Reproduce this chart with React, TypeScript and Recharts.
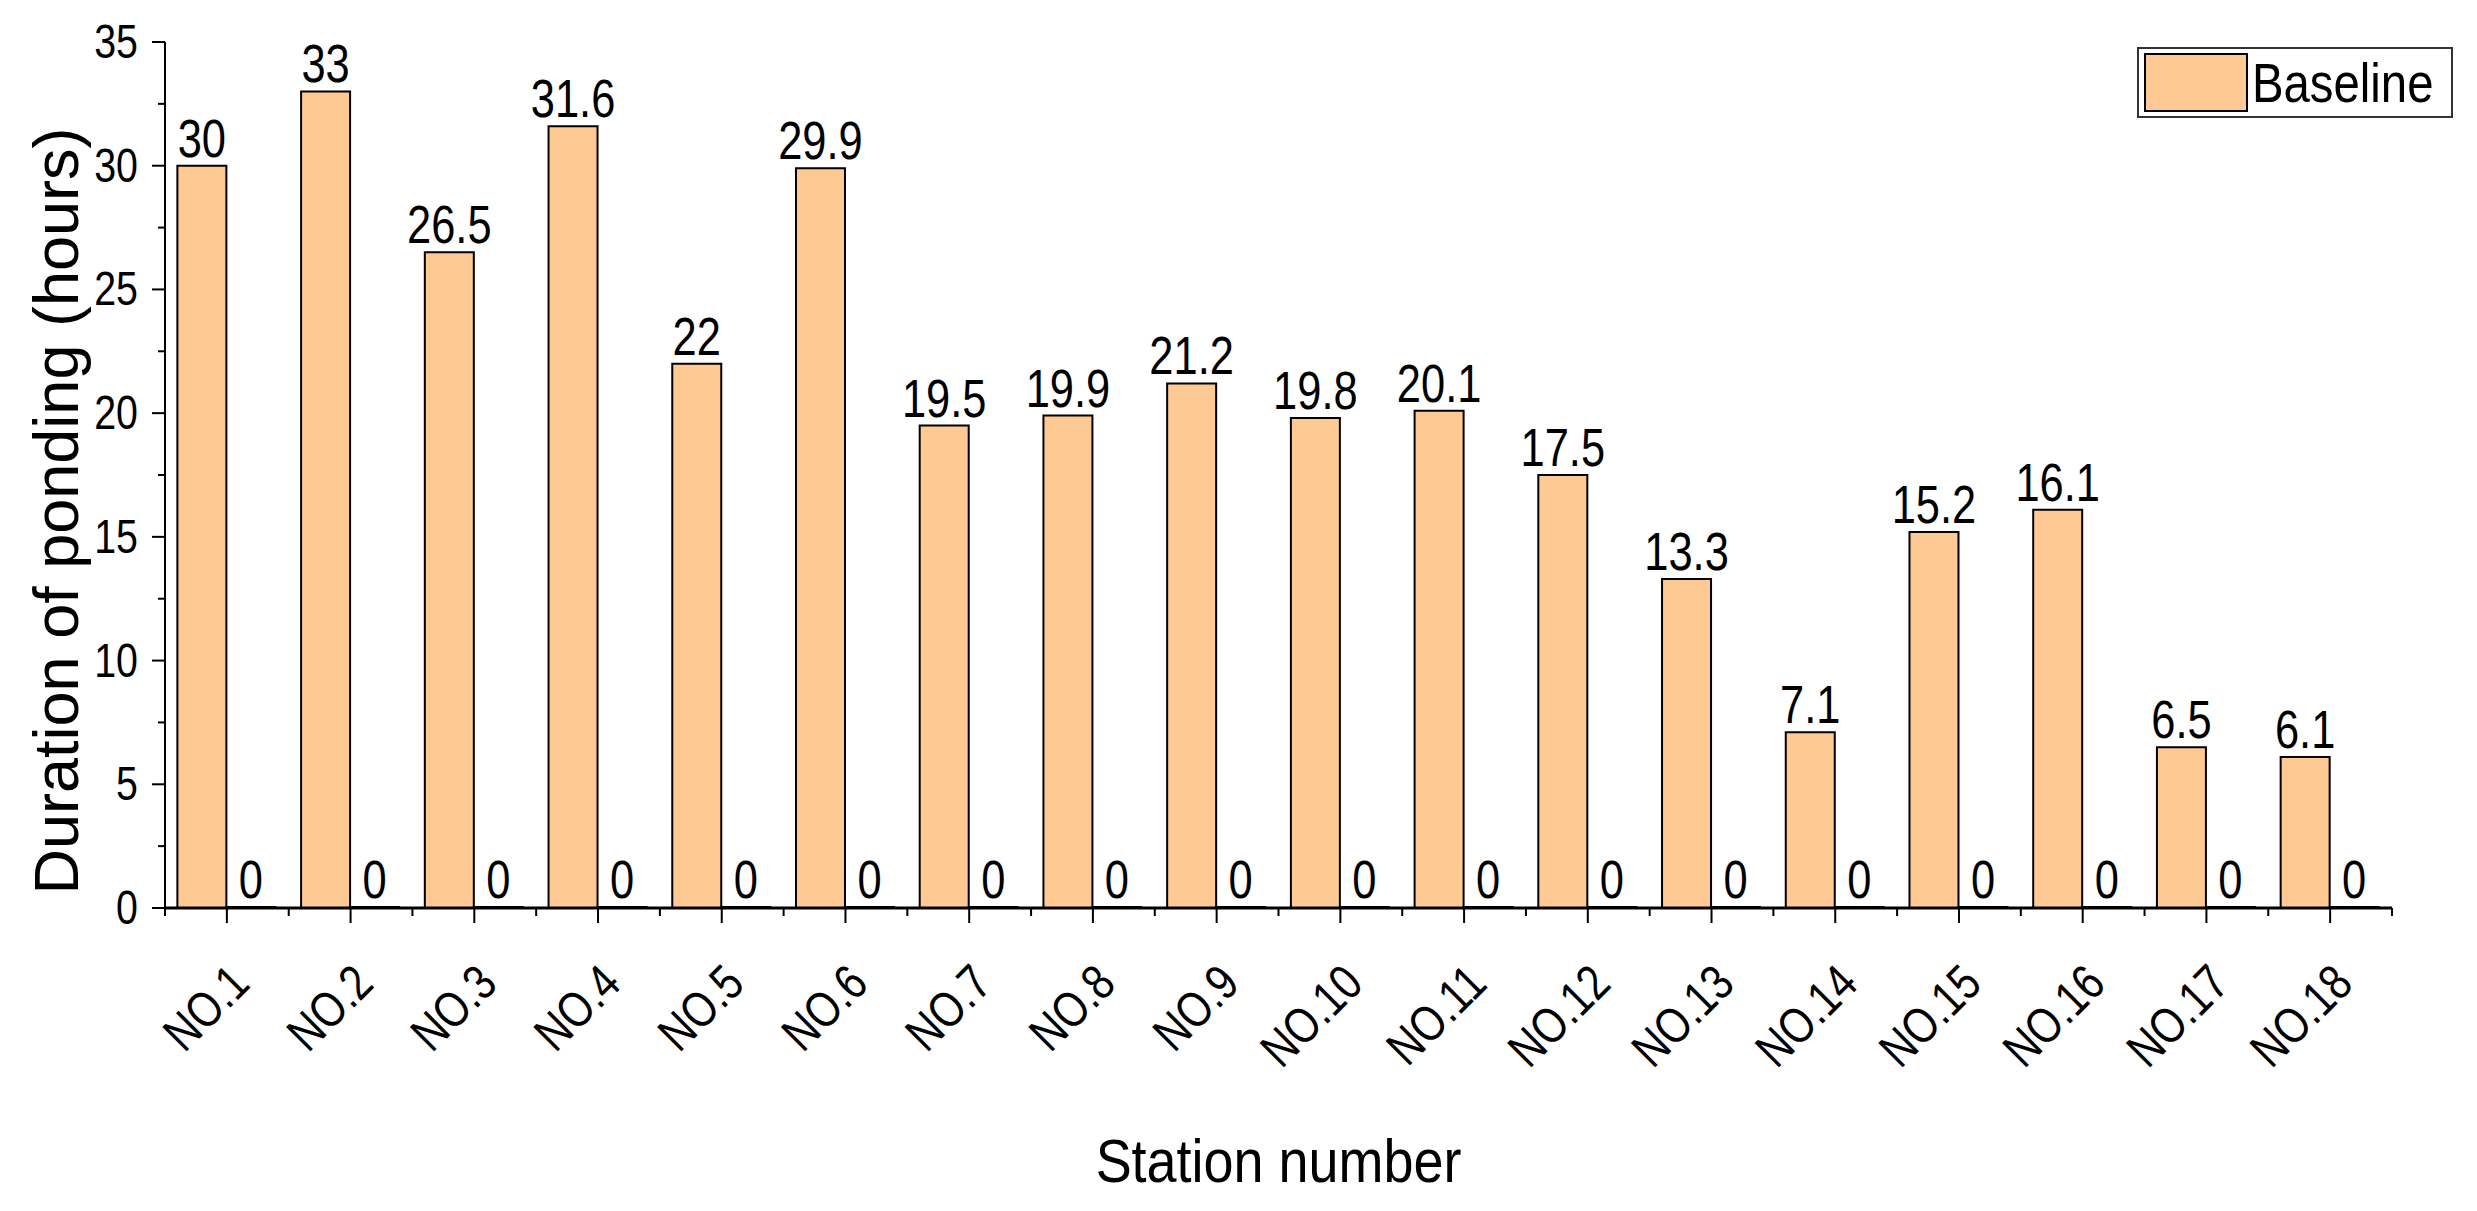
import React from 'react';
import { BarChart, Bar, XAxis, YAxis, LabelList, Legend, Label } from 'recharts';

const stations = [
  'NO.1', 'NO.2', 'NO.3', 'NO.4', 'NO.5', 'NO.6', 'NO.7', 'NO.8', 'NO.9',
  'NO.10', 'NO.11', 'NO.12', 'NO.13', 'NO.14', 'NO.15', 'NO.16', 'NO.17', 'NO.18',
];
const baseline = [30, 33, 26.5, 31.6, 22, 29.9, 19.5, 19.9, 21.2, 19.8, 20.1, 17.5, 13.3, 7.1, 15.2, 16.1, 6.5, 6.1];
const scenario = [0, 0, 0, 0, 0, 0, 0, 0, 0, 0, 0, 0, 0, 0, 0, 0, 0, 0];
const yTicks = [0, 2.5, 5, 7.5, 10, 12.5, 15, 17.5, 20, 22.5, 25, 27.5, 30, 32.5, 35];

const W = 2477;
const H = 1211;
const MARGIN = { top: 42, right: 85, bottom: 0, left: 0 };
const Y_AXIS_W = 165;
const X_AXIS_H = 303;
const PLOT_W = W - MARGIN.left - MARGIN.right - Y_AXIS_W;
const PLOT_H = H - MARGIN.top - MARGIN.bottom - X_AXIS_H;
const BAND = PLOT_W / stations.length;

const PEACH = '#FFC994';
const FONT = "'Liberation Sans', Arial, sans-serif";
const SX = 0.82; // the original uses a condensed Arial

const data = stations.map((s, i) => ({ station: s, baseline: baseline[i], scenario: scenario[i] }));

// condensed text: drawn at (0,0) then moved, rotated and squeezed horizontally
function NText({ x, y, size, anchor = 'middle', rotate = 0, sx = SX, children }: any) {
  const rot = rotate ? ` rotate(${rotate})` : '';
  return (
    <text transform={`translate(${x},${y})${rot} scale(${sx},1)`} x={0} y={0}
      textAnchor={anchor} fontFamily={FONT} fontSize={size} fill="#000">
      {children}
    </text>
  );
}

function YTick({ x, y, payload }: any) {
  const major = payload.value % 5 === 0;
  return (
    <g>
      <line x1={x - (major ? 13 : 7)} x2={x} y1={y} y2={y} stroke="#000" strokeWidth={2} />
      {major && <NText x={x - 27} y={y + 16} size={48} anchor="end">{payload.value}</NText>}
    </g>
  );
}

function XTick({ x, y, payload, index }: any) {
  const half = BAND / 2;
  return (
    <g>
      <line x1={x} x2={x} y1={y} y2={y + 15} stroke="#000" strokeWidth={2} />
      <line x1={x - half} x2={x - half} y1={y} y2={y + 8} stroke="#000" strokeWidth={2} />
      {index === stations.length - 1 && (
        <line x1={x + half} x2={x + half} y1={y} y2={y + 8} stroke="#000" strokeWidth={2} />
      )}
      <NText x={x + 25} y={y + 78} size={50} anchor="end" rotate={-45}>{payload.value}</NText>
    </g>
  );
}

const ValueLabel = (p: any) => (
  <NText x={p.x + p.width / 2} y={p.y - 9} size={53}>{p.value}</NText>
);

const LegendBox = () => (
  <div style={{
    width: 312, height: 67, border: '2px solid #333', background: '#fff',
    display: 'flex', alignItems: 'center', boxSizing: 'content-box', overflow: 'hidden',
  }}>
    <div style={{ width: 100, height: 55, marginLeft: 5, flex: 'none', background: PEACH, border: '2px solid #000' }} />
    <span style={{
      marginLeft: 4, fontFamily: FONT, fontSize: 55, color: '#000', whiteSpace: 'nowrap',
      display: 'inline-block', transform: 'scaleX(0.86)', transformOrigin: 'left center',
    }}>Baseline</span>
  </div>
);

export default function App() {
  return (
    <div style={{ position: 'absolute', left: 0, top: 0, background: '#fff' }}>
      <BarChart width={W} height={H} data={data} margin={MARGIN} barGap={0} barCategoryGap="10%">
        <XAxis
          dataKey="station" interval={0} height={X_AXIS_H} tickSize={0} tickMargin={0}
          tick={<XTick />} axisLine={{ stroke: '#000', strokeWidth: 3 }} tickLine={false}
        >
          <Label
            content={() => (
              <NText x={Y_AXIS_W + PLOT_W / 2} y={H - 29} size={62} sx={0.87}>Station number</NText>
            )}
          />
        </XAxis>
        <YAxis
          domain={[0, 35]} ticks={yTicks} interval={0} width={Y_AXIS_W} tickSize={0} tickMargin={0}
          tick={<YTick />} axisLine={{ stroke: '#000', strokeWidth: 2 }} tickLine={false}
        >
          <Label
            content={() => {
              const cx = 56;
              const cy = MARGIN.top + PLOT_H / 2 + 36;
              return (
                <text x={cx} y={cy} transform={`rotate(-90, ${cx}, ${cy})`} textAnchor="middle"
                  dominantBaseline="central" fontFamily={FONT} fontSize={63} fill="#000">
                  Duration of ponding (hours)
                </text>
              );
            }}
          />
        </YAxis>
        <Legend
          layout="horizontal" verticalAlign="middle" align="center"
          wrapperStyle={{ top: 47, left: 2137, right: 'auto', width: 316 }}
          content={() => <LegendBox />}
        />
        <Bar dataKey="baseline" name="Baseline" fill={PEACH} stroke="#000" strokeWidth={2} isAnimationActive={false}>
          <LabelList dataKey="baseline" content={<ValueLabel />} />
        </Bar>
        <Bar dataKey="scenario" legendType="none" fill="#fff" stroke="#000" strokeWidth={2}
          minPointSize={1} isAnimationActive={false}>
          <LabelList dataKey="scenario" content={<ValueLabel />} />
        </Bar>
      </BarChart>
    </div>
  );
}
